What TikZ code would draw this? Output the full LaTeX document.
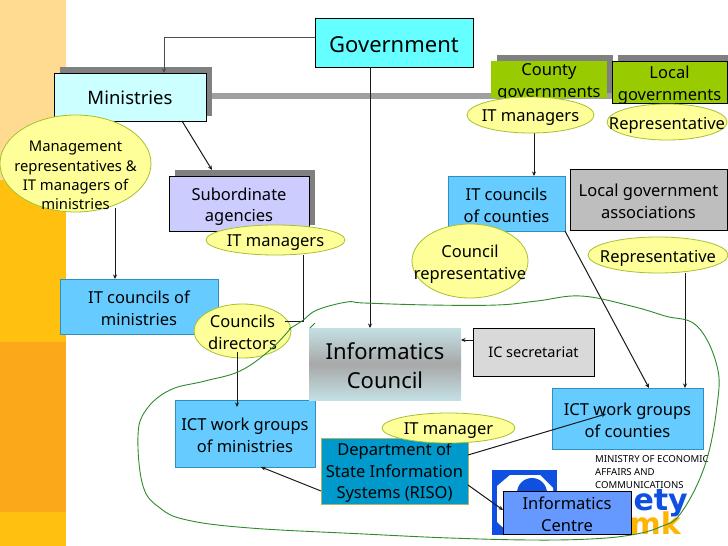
\documentclass[tikz,border=0pt]{standalone}
\usepackage{fontspec}
\setmainfont{Noto Sans}
\newfontfamily\logofont{DejaVu Sans}
\usetikzlibrary{shapes.geometric,arrows.meta}
\definecolor{cyanA}{HTML}{66FFFF}
\definecolor{cyanB}{HTML}{CCFFFF}
\definecolor{lilac}{HTML}{CCCCFF}
\definecolor{olive}{HTML}{99CC00}
\definecolor{skyb}{HTML}{66CCFF}
\definecolor{skyline}{HTML}{2F8FBF}
\definecolor{ellf}{HTML}{FFFF99}
\definecolor{elline}{HTML}{A6C030}
\definecolor{deep}{HTML}{0099CC}
\definecolor{shad}{HTML}{808080}
\definecolor{curvec}{HTML}{2E8B2E}
\definecolor{logob}{HTML}{1050E0}
\definecolor{logoo}{HTML}{FFB400}
\definecolor{paleor}{HTML}{FFDB92}
\definecolor{yelor}{HTML}{FFC010}
\definecolor{deepor}{HTML}{FBA81A}
\definecolor{tealg}{HTML}{C4E0E4}
\definecolor{midg}{HTML}{A8A8A8}
\definecolor{assoc}{HTML}{BEBEBE}
\definecolor{icsec}{HTML}{D9D9D9}
\definecolor{infoc}{HTML}{6699FF}
\tikzset{
  txt/.style={font=\fontsize{16.5}{21.5}\selectfont,align=center,text=black,inner sep=0pt,yshift=-2pt},
  boxn/.style={rectangle,draw=black,line width=0.8pt,inner sep=0pt,outer sep=0pt},
  skybox/.style={boxn,fill=skyb,draw=skyline},
  oval/.style={ellipse,draw=elline,line width=0.8pt,fill=ellf,inner sep=0pt,outer sep=0pt},
  wire/.style={line width=1pt,black!90},
  arr/.style={wire,-{Stealth[length=4.5pt,width=4pt]}},
  shadowbar/.style={fill=shad,draw=none}
}
\newcommand{\bx}[7][]{\node[#6,minimum width={#4-#2},minimum height={#5-#3},label={[txt,#1]center:#7}] (#2#3) at ({(#2+#4)/2},{(#3+#5)/2}) {};}
\newcommand{\bxn}[8][]{\node[#7,minimum width={#5-#3},minimum height={#6-#4},label={[txt,#1]center:#8}] (#2) at ({(#3+#5)/2},{(#4+#6)/2}) {};}
\newcommand{\ov}[7][]{\node[oval,minimum width={#5-#3},minimum height={#6-#4},label={[txt,yshift=-1pt,#1]center:#7}] (#2) at ({(#3+#5)/2},{(#4+#6)/2}) {};}
\begin{document}
\begin{tikzpicture}[x=1pt,y=-1pt]
\useasboundingbox (0,0) rectangle (728,546);
\fill[white] (0,0) rectangle (728,546);
% side strip
\fill[paleor] (0,0) rectangle (66,180);
\fill[yelor] (0,180) rectangle (66,546);
\fill[deepor] (0,342) rectangle (66,512);
% shadows and bar
\fill[shadowbar] (60,67) rectangle (212,116);
\fill[shadowbar] (175,170) rectangle (315,225);
\fill[shadowbar] (497,55) rectangle (613,98);
\fill[shadowbar] (618,55) rectangle (728,97);
\fill[shad!75!white] (212,93) rectangle (618,99);
% boxes
\bxn[font=\fontsize{22}{26}\selectfont]{gov}{315}{18}{473}{67}{boxn,fill=cyanA}{Government}
\bxn[font=\fontsize{18.5}{24}\selectfont,yshift=1pt]{min}{54}{73}{206}{121}{boxn,fill=cyanB}{Ministries}
\bxn[yshift=-1pt]{sub}{169}{176}{309}{231}{boxn,fill=lilac}{Subordinate\\agencies}
\bxn[yshift=-1pt]{county}{491}{61}{607}{98}{boxn,fill=olive,draw=none}{County\\governments}
\bxn[yshift=-1pt]{local}{612}{61}{727}{103}{boxn,fill=olive}{Local\\governments}
\bxn{coun}{448}{176}{565}{231}{skybox}{IT councils\\of counties}
\bxn{lga}{570}{169}{727}{230}{boxn,fill=assoc}{Local government\\associations}
\bxn{itmin}{60}{279}{218}{334}{skybox}{IT councils of\\ministries}
\bxn{ictmin}{175}{400}{315}{467}{skybox}{ICT work groups\\of ministries}
\bxn{ictcou}{552}{388}{703}{449}{skybox}{ICT work groups\\of counties}
\bxn[font=\fontsize{14.5}{18}\selectfont,yshift=2pt]{sec}{473}{328}{594}{376}{boxn,fill=icsec}{IC secretariat}
\bxn[font=\fontsize{22}{29}\selectfont]{ic}{309}{328}{461}{400}{rectangle,draw=none,inner sep=0pt,outer sep=0pt,top color=tealg,bottom color=tealg,middle color=midg}{Informatics\\Council}
\bxn{riso}{321}{438}{468}{504}{boxn,fill=deep,draw=ellf!70!black}{Department of\\State Information\\Systems (RISO)}
% connectors
\draw[arr,shad!60!black] (gov.west |- 0,37) -- (164,37) -- ([xshift=34pt]min.north);
\draw[arr] ([xshift=52pt]min.south) -- ([xshift=-27pt,yshift=6pt]sub.north);
\draw[arr] (370,67) coordinate (g1) -- (ic.north -| g1);
\draw[arr] (sec.west |- 0,340) -- (ic.east |- 0,340);
\draw[arr] (riso.west |- 0,491) -- ([xshift=16pt]ictmin.south);
\draw[arr] (riso.east |- 0,455) -- (606,414) coordinate (ictend);
\draw[arr] (534,128) coordinate (c1) -- (coun.north -| c1);
\draw[arr] (coun.south east) -- ([xshift=21.5pt]ictcou.north);
\draw[arr] (685,273) coordinate (r1) -- (ictcou.north -| r1);
\draw[arr] (115,208) coordinate (m1) -- (itmin.north -| m1);
% ellipses
\ov[font=\fontsize{14.8}{19.3}\selectfont,yshift=-9pt]{mg}{0}{115}{151}{212}{Management\\representatives \&\\IT managers of\\ministries}
\ov{itm}{206}{225}{345}{255}{IT managers}
\ov[yshift=1.5pt]{cd}{194}{304}{291}{358}{Councils\\directors}
\ov{cit}{467}{97}{594}{133}{IT managers}
\ov{rep}{607}{104}{727}{140}{Representative}
\ov{crep}{412}{224}{528}{298}{Council\\representative}
\ov{rep2}{588}{237}{728}{273}{Representative}
\ov{itm2}{382}{413}{515}{443}{IT manager}
\draw[wire] (itm.south -| 303,0) -- (303,321) -- (285,321);
\draw[arr] (237,352) coordinate (d1) -- (237,407);
% caption
\node[anchor=north west,inner sep=0pt,align=left,font=\fontsize{9.6}{13}\selectfont] (mec) at (595,455) {MINISTRY OF ECONOMIC\\AFFAIRS AND\\COMMUNICATIONS};
% logo
\fill[logob] (492,470) rectangle (557,535);
\fill[white] (510,475) -- (540,475) -- (553,488) -- (553,520) -- (540,532) -- (508,532) -- (497,522) -- (497,486) -- cycle;
\fill[logob] (532,493) circle (15);
\node[anchor=base east,inner sep=0pt,font=\logofont\bfseries\fontsize{30}{30}\selectfont,text=logob] (ety) at (688,510) {ety};
\node[anchor=base east,inner sep=0pt,font=\logofont\bfseries\fontsize{30}{30}\selectfont,text=logoo] (mk) at (681,534) {mk};
\draw[arr] (riso.east |- 0,485) -- (503,510) coordinate (infoend);
% green curve
\draw[curvec,line width=0.9pt] plot[smooth,tension=0.65] coordinates {(291,328) (270,350) (240,371) (205,381) (170,390) (146,410) (138,436) (143,486) (160,508) (187,520) (250,528) (364,534) (450,538) (531,540) (590,539) (631,535) (660,527) (681,513) (705,465) (717,406) (717,366) (697,326) (665,316) (631,306) (581,296) (537,301) (497,305) (430,305) (364,303) (347,302) (317,310) (302,321) (289,329)};
\draw[curvec,line width=0.9pt] (310,328) -- (315,323);
% centre box on top
\bxn{ctr}{503}{491}{631}{534}{boxn,fill=infoc}{Informatics\\Centre}
\end{tikzpicture}
\end{document}
